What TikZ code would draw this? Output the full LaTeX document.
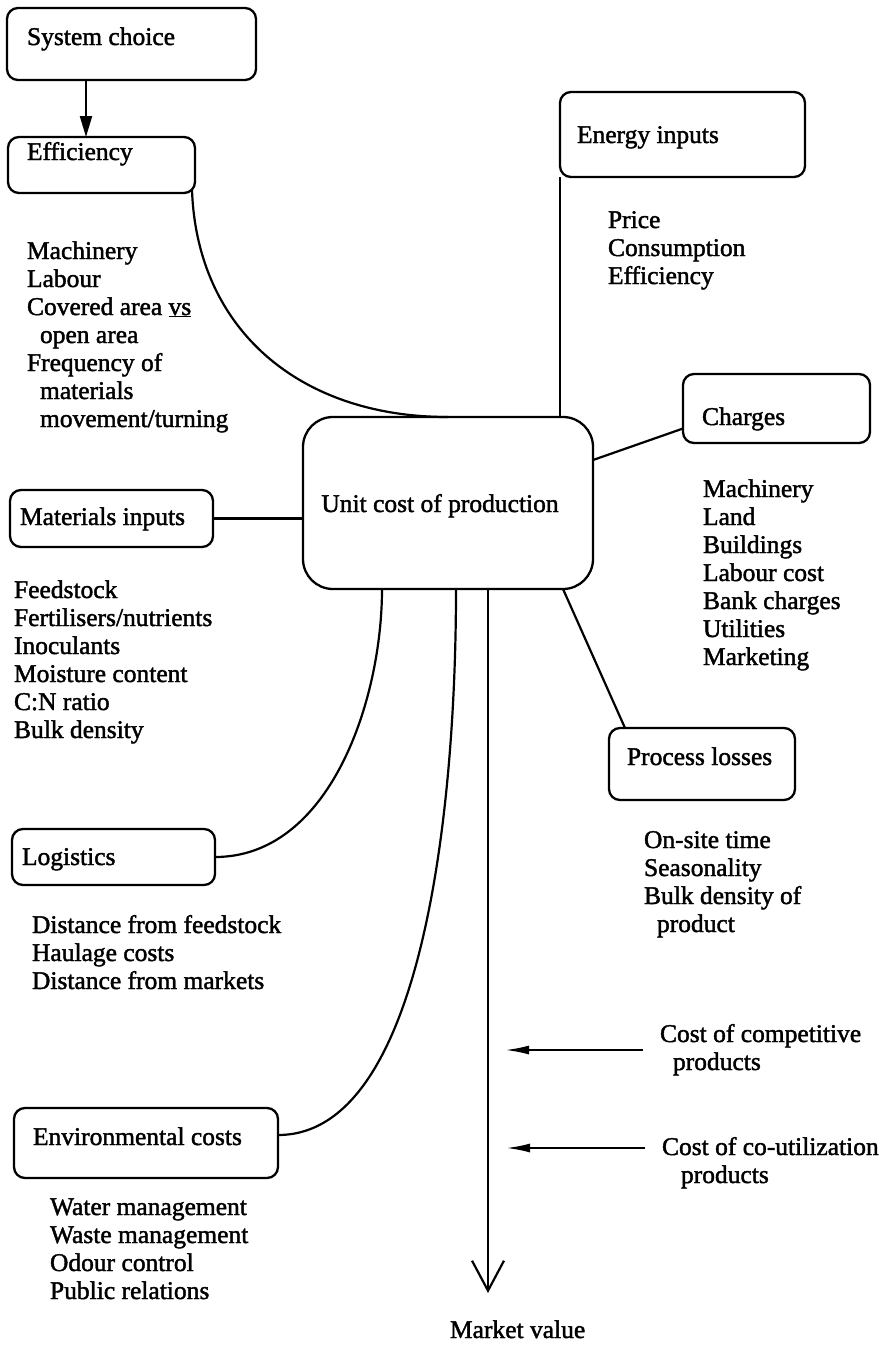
\documentclass[tikz,border=0pt]{standalone}
\usepackage{fontspec}
\setmainfont{Liberation Serif}[FakeBold=1.6]
\usetikzlibrary{arrows.meta,fit,calc}

\tikzset{
  box/.style={draw, line width=2.3pt, rounded corners=11pt, inner sep=0pt, outer sep=0pt},
  bigbox/.style={box, rounded corners=30pt},
  % lists are anchored at the baseline of their last line
  txt/.style={font=\fontsize{25.5}{28}\selectfont, inner sep=0pt, outer sep=0pt, align=left, anchor=base west},
  link/.style={line width=2.2pt},
  sidearrow/.style={line width=2.2pt, -{Latex[length=24pt,width=9pt]}},
}

\begin{document}
\begin{tikzpicture}[x=1pt, y=-1pt]
\useasboundingbox (0,0) rectangle (887,1345);

% ---- boxes ----
\node[box, fit={(7,8)(256,80)}]      (sys)    {};
\node[box, fit={(8,137)(195,193)}]   (eff)    {};
\node[box, fit={(560,92)(805,177)}]  (energy) {};
\node[box, fit={(683,374)(870,443)}] (chg)    {};
\node[bigbox, fit={(303,417)(593,589)}] (cbox) {};
\node[box, fit={(10,490)(213,547)}]  (mat)    {};
\node[box, fit={(609,728)(795,800)}] (proc)   {};
\node[box, fit={(12,829)(215,885)}]  (logi)   {};
\node[box, fit={(14,1108)(278,1178)}] (env)   {};

% ---- box titles ----
\node[txt] (sysT)    at (27,45)   {System choice};
\node[txt] (effT)    at (27,160)  {Efficiency};
\node[txt] (energyT) at (577,143) {Energy inputs};
\node[txt] (chgT)    at (702,425) {Charges};
\node[txt, anchor=base] (cboxT) at (440,512) {Unit cost of production};
\node[txt] (matT)    at (20,525)  {Materials inputs};
\node[txt] (procT)   at (627,765) {Process losses};
\node[txt] (logiT)   at (22,865)  {Logistics};
\node[txt] (envT)    at (33,1145) {Environmental costs};

% ---- factor lists ----
\node[txt] (effL) at (27,427) {Machinery\\Labour\\Covered area \underline{vs}\\\hspace*{13pt}open area\\Frequency of\\\hspace*{13pt}materials\\\hspace*{13pt}movement/turning};
\node[txt] (energyL) at (608,284) {Price\\Consumption\\Efficiency};
\node[txt] (chgL) at (703,665) {Machinery\\Land\\Buildings\\Labour cost\\Bank charges\\Utilities\\Marketing};
\node[txt] (matL) at (14,738) {Feedstock\\Fertilisers/nutrients\\Inoculants\\Moisture content\\C:N ratio\\Bulk density};
\node[txt] (procL) at (644,932) {On-site time\\Seasonality\\Bulk density of\\\hspace*{13pt}product};
\node[txt] (logiL) at (32,989) {Distance from feedstock\\Haulage costs\\Distance from markets};
\node[txt] (envL) at (50,1299) {Water management\\Waste management\\Odour control\\Public relations};

\node[txt] (comp)  at (660,1070) {Cost of competitive\\\hspace*{13pt}products};
\node[txt] (couti) at (662,1183) {Cost of co-utilization\\\hspace*{19pt}products};
\node[txt] (mval)  at (450,1338) {Market value};

% ---- connectors ----
\draw[link, -{Triangle[length=21pt,width=12pt]}]
  ([xshift=79pt]sys.south west) -- ([xshift=78pt]eff.north west);

\draw[link] ([xshift=-3pt,yshift=3pt]eff.south east)
  .. controls (197,330) and (300,417) .. (cbox.north);

\draw[link] (energy.south west) -- (energy.south west |- cbox.north);

\draw[link] ([yshift=-20pt]chg.west) -- ([yshift=43pt]cbox.east);

\draw[link] (mat.east) -- (mat.east -| cbox.west);

\draw[link] ([xshift=-30pt]cbox.south east) -- ([xshift=16pt]proc.north west);

\draw[link] (logi.east)
  .. controls (330,857) and (382,700) .. ([xshift=-66pt]cbox.south);

\draw[link] ([yshift=8pt]env.east)
  .. controls (420,1135) and (456,820) .. ([xshift=8pt]cbox.south);

% main cost line running down to market value
\coordinate (mvTip) at (488,1293);
\draw[link, -{Straight Barb[length=30pt,width=32pt,line width=2.2pt]}]
  ([xshift=40pt]cbox.south) -- (mvTip);

% market influences
\coordinate (c1) at (643,1050);
\coordinate (c2) at (645,1148);
\draw[sidearrow] (c1) -- (c1 -| 505,0);
\draw[sidearrow] (c2) -- (c2 -| 506,0);

\end{tikzpicture}
\end{document}
